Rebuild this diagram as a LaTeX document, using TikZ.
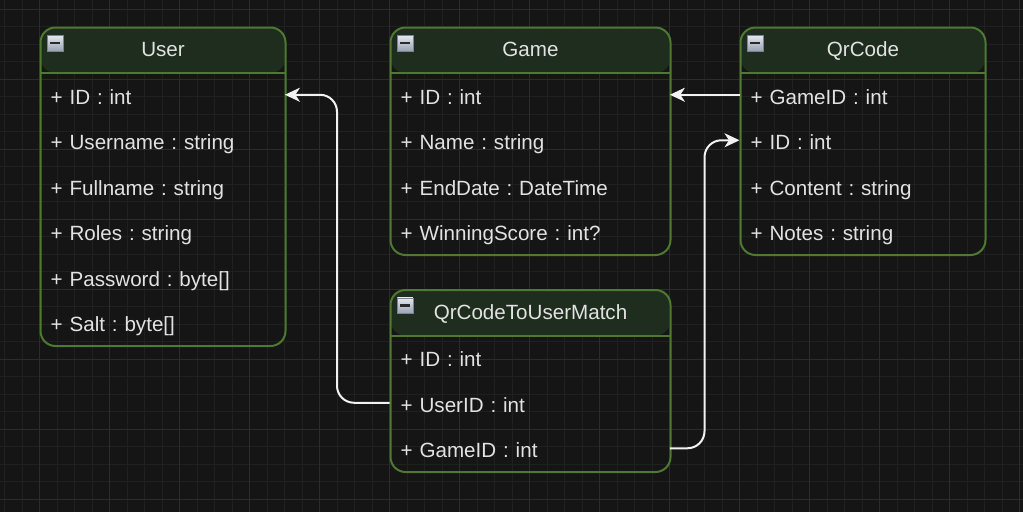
\documentclass[tikz,border=0pt]{standalone}
\usepackage{fontspec}
\setmainfont{Liberation Sans}
\usetikzlibrary{arrows.meta,calc}
\definecolor{bgc}{HTML}{151515}
\definecolor{gridminor}{HTML}{202020}
\definecolor{gridmajor}{HTML}{2C2C2C}
\definecolor{hdrGreen}{HTML}{1F2D1E}
\definecolor{frameGreen}{HTML}{4D7A30}
\definecolor{txt}{HTML}{E2E2E2}
\definecolor{lineWhite}{HTML}{F2F2F2}
\definecolor{togTop}{HTML}{E4E8EE}
\definecolor{togBot}{HTML}{9AA2B0}
\definecolor{togEdge}{HTML}{7A8394}
\definecolor{togBar}{HTML}{2A2A2A}
\frenchspacing
\begin{document}
\begin{tikzpicture}[x=1pt,y=-1pt,
  classframe/.style={draw=frameGreen, line width=2pt, rounded corners=15pt, inner sep=0pt, anchor=north west,
    path picture={
      \fill[hdrGreen] (path picture bounding box.north west) rectangle ([yshift=-45.5pt]path picture bounding box.north east);
      \draw[frameGreen, line width=2pt] ([yshift=-45.5pt]path picture bounding box.north west) -- ([yshift=-45.5pt]path picture bounding box.north east);
    }},
  toggle/.style={draw=togEdge, line width=0.8pt, top color=togTop, bottom color=togBot, minimum size=15.5pt, inner sep=0pt, anchor=north west},
  titletext/.style={text=txt, font=\fontsize{20.6}{25}\selectfont\frenchspacing, text height=16pt, text depth=1pt, inner sep=0pt},
  field/.style={text=txt, font=\fontsize{20.6}{25}\selectfont\frenchspacing, inner xsep=11pt, inner ysep=0pt, align=left, text width=#1, text height=20pt, text depth=1.5pt, anchor=west},
  conn/.style={draw=lineWhite, line width=2pt, rounded corners=17pt, -{Stealth[length=15pt,width=14pt,inset=4.5pt]}},
  gminor/.style={draw=gridminor, line width=1pt},
  gmajor/.style={draw=gridmajor, line width=1pt}
]
\useasboundingbox (0,0) rectangle (1023,512);
\fill[bgc] (0,0) rectangle (1023,512);
% grid
\foreach \i in {0,...,58} \draw[gminor] ({4.5+17.5*\i},0) -- ({4.5+17.5*\i},512);
\foreach \i in {0,...,28} \draw[gminor] (0,{9+17.5*\i}) -- (1023,{9+17.5*\i});
\foreach \i in {0,...,14} \draw[gmajor] ({39.5+70*\i},0) -- ({39.5+70*\i},512);
\foreach \i in {0,...,7} \draw[gmajor] (0,{9+70*\i}) -- (1023,{9+70*\i});

% User
\node[classframe, minimum width=245pt, minimum height=318.5pt] (user) at (39.5,26.5) {};
\node[toggle] (user-tog) at ([xshift=7.5pt,yshift=-8.5pt]user.north west) {\color{togBar}\rule{10pt}{2.5pt}};
\node[titletext] (user-title) at ([yshift=-22.75pt]user.north) {User};
\node[field=223pt] (user-id) at ([yshift=-68.25pt]user.north west) {+ ID : int};
\node[field=223pt] (user-username) at ([yshift=-113.75pt]user.north west) {+ Username : string};
\node[field=223pt] (user-fullname) at ([yshift=-159.25pt]user.north west) {+ Fullname : string};
\node[field=223pt] (user-roles) at ([yshift=-204.75pt]user.north west) {+ Roles : string};
\node[field=223pt] (user-password) at ([yshift=-250.25pt]user.north west) {+ Password : byte[]};
\node[field=223pt] (user-salt) at ([yshift=-295.75pt]user.north west) {+ Salt : byte[]};

% Game
\node[classframe, minimum width=280pt, minimum height=227.5pt] (game) at (389.5,26.5) {};
\node[toggle] (game-tog) at ([xshift=7.5pt,yshift=-8.5pt]game.north west) {\color{togBar}\rule{10pt}{2.5pt}};
\node[titletext] (game-title) at ([yshift=-22.75pt]game.north) {Game};
\node[field=258pt] (game-id) at ([yshift=-68.25pt]game.north west) {+ ID : int};
\node[field=258pt] (game-name) at ([yshift=-113.75pt]game.north west) {+ Name : string};
\node[field=258pt] (game-enddate) at ([yshift=-159.25pt]game.north west) {+ EndDate : DateTime};
\node[field=258pt] (game-score) at ([yshift=-204.75pt]game.north west) {+ WinningScore : int?};

% QrCode
\node[classframe, minimum width=245pt, minimum height=227.5pt] (qr) at (739.5,26.5) {};
\node[toggle] (qr-tog) at ([xshift=7.5pt,yshift=-8.5pt]qr.north west) {\color{togBar}\rule{10pt}{2.5pt}};
\node[titletext] (qr-title) at ([yshift=-22.75pt]qr.north) {QrCode};
\node[field=223pt] (qr-gameid) at ([yshift=-68.25pt]qr.north west) {+ GameID : int};
\node[field=223pt] (qr-id) at ([yshift=-113.75pt]qr.north west) {+ ID : int};
\node[field=223pt] (qr-content) at ([yshift=-159.25pt]qr.north west) {+ Content : string};
\node[field=223pt] (qr-notes) at ([yshift=-204.75pt]qr.north west) {+ Notes : string};

% QrCodeToUserMatch
\node[classframe, minimum width=280pt, minimum height=182pt] (qm) at (389.5,289) {};
\node[toggle] (qm-tog) at ([xshift=7.5pt,yshift=-8.5pt]qm.north west) {\color{togBar}\rule{10pt}{2.5pt}};
\node[titletext] (qm-title) at ([yshift=-22.75pt]qm.north) {QrCodeToUserMatch};
\node[field=258pt] (qm-id) at ([yshift=-68.25pt]qm.north west) {+ ID : int};
\node[field=258pt] (qm-userid) at ([yshift=-113.75pt]qm.north west) {+ UserID : int};
\node[field=258pt] (qm-gameid) at ([yshift=-159.25pt]qm.north west) {+ GameID : int};

% connectors
\coordinate (j1) at (337,0);
\coordinate (j2) at (704.5,0);
\draw[conn] (qm-userid.west) -- (qm-userid.west -| j1) |- (user-id.east);
\draw[conn] (qm-gameid.east) -- (qm-gameid.east -| j2) |- (qr-id.west);
\draw[conn] (qr-gameid.west) -- (game-id.east);
\end{tikzpicture}
\end{document}
